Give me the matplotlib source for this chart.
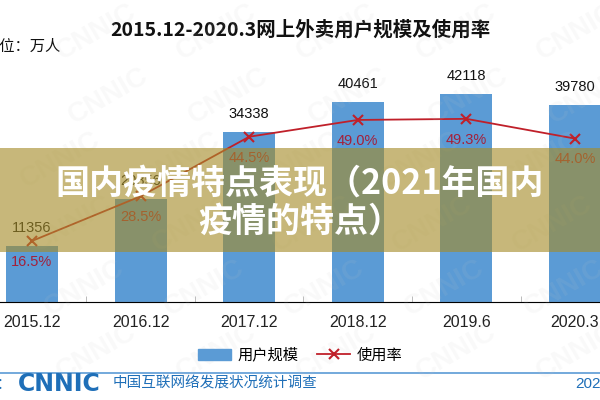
import numpy as np
import matplotlib
matplotlib.use("Agg")
import matplotlib.pyplot as plt
from matplotlib.patches import Patch, Rectangle
from matplotlib.lines import Line2D

plt.rcParams['font.family'] = ['Liberation Sans', 'Noto Sans CJK SC', 'DejaVu Sans']

# data
periods = ['2015.12', '2016.12', '2017.12', '2018.12', '2019.6', '2020.3']
users = [11356, 20856, 34338, 40461, 42118, 39780]      # 万人
rates = [16.5, 28.5, 44.5, 49.0, 49.3, 44.0]            # %

BAR = '#5b9bd5'
RED = '#c0202a'
DARKRED = '#a3203a'
FOOT = '#1f6fb8'

fig = plt.figure(figsize=(6, 4), dpi=100)
ax = fig.add_axes([-0.0372, 0.244, 1.086, 0.619])
x = np.arange(len(periods))

ax.bar(x, users, width=0.48, color=BAR, zorder=2)
ax.set_xlim(-0.5, len(periods) - 0.5)
ax.set_ylim(0, 50000)
for xi, v in zip(x, users):
    ax.annotate(f"{v}", (xi, v), xytext=(0, 8), textcoords='offset points',
                ha='center', va='bottom', fontsize=10.5, color='#111111')

ax2 = ax.twinx()
ax2.plot(x, rates, color=RED, lw=1.3, marker='x', ms=7, mew=1.5, zorder=3)
ax2.set_ylim(0, 66.5)
for xi, r in zip(x, rates):
    ax2.annotate(f"{r:.1f}%", (xi, r), xytext=(0, -15), textcoords='offset points',
                 ha='center', va='center', fontsize=10.5, color=DARKRED)

for a in (ax, ax2):
    for s in ('left', 'right', 'top'):
        a.spines[s].set_visible(False)
    a.set_yticks([])
ax.spines['bottom'].set_color('#d0d0d0')
ax.set_xticks(x)
ax.set_xticklabels(periods, fontsize=11.5, color='#222222')
ax.tick_params(axis='x', length=0, pad=9)
ax.set_xticks(x[:-1] + 0.5, minor=True)
ax.tick_params(axis='x', which='minor', direction='in', length=4, color='#b0b0b0')

# title and unit
fig.text(0.5, 1 - 30 / 400, '2015.12-2020.3网上外卖用户规模及使用率', ha='center', va='center',
         fontsize=14, fontweight='bold', family=['Noto Sans CJK SC'], color='#111111')
fig.text(0.1, 1 - 46 / 400, '单位：万人', ha='right', va='center', fontsize=11,
         family=['Noto Sans CJK SC'], color='#111111')

# legend
handles = [Patch(color=BAR), Line2D([], [], color=RED, marker='x', lw=1.3, ms=7, mew=1.5)]
fig.legend(handles, ['用户规模', '使用率'], loc='center', bbox_to_anchor=(0.5, 1 - 355 / 400),
           ncol=2, frameon=False, handlelength=2.2, columnspacing=1.2, handletextpad=0.4,
           prop={'family': 'Noto Sans CJK SC', 'size': 11})

# footer
fig.add_artist(Line2D([0, 1], [1 - 373 / 400] * 2, color=BAR, lw=1.2, transform=fig.transFigure))
fig.text(0.02, 1 - 384 / 400, '来源：', ha='right', va='center', fontsize=11,
         family=['Noto Sans CJK SC'], color=FOOT)
fig.text(0.03, 1 - 384 / 400, 'CNNIC', ha='left', va='center', fontsize=17, fontweight='heavy',
         family=['DejaVu Sans'], color=FOOT)
fig.text(113 / 600, 1 - 384 / 400, '中国互联网络发展状况统计调查', ha='left', va='center',
         fontsize=10.5, family=['Noto Sans CJK SC'], color=FOOT)
fig.text(575 / 600, 1 - 384 / 400, '2020.4', ha='left', va='center', fontsize=11, color=FOOT)

# faint watermarks
for wy in np.arange(0.12, 0.95, 0.16):
    for wx in np.arange(0.1, 0.95, 0.2):
        fig.text(wx + (wy * 0.5) % 0.1, wy, 'CNNIC', rotation=30, fontsize=20, fontweight='bold',
                 color='#c8c8c8', alpha=0.1, ha='center', va='center', zorder=5)

# overlay banner
fig.add_artist(Rectangle((0, 1 - 252 / 400), 1, 104 / 400, transform=fig.transFigure,
                         facecolor=(165 / 255, 140 / 255, 40 / 255), alpha=0.62, zorder=10))
fig.text(0.5, 1 - 183 / 400, '国内疫情特点表现（2021年国内', ha='center', va='center',
         fontsize=24.5, fontweight='bold', family=['Noto Sans CJK SC'], color='white', zorder=11)
fig.text(0.5, 1 - 221 / 400, '疫情的特点）', ha='center', va='center',
         fontsize=24.5, fontweight='bold', family=['Noto Sans CJK SC'], color='white', zorder=11)

fig.savefig('out.png', dpi=100)
